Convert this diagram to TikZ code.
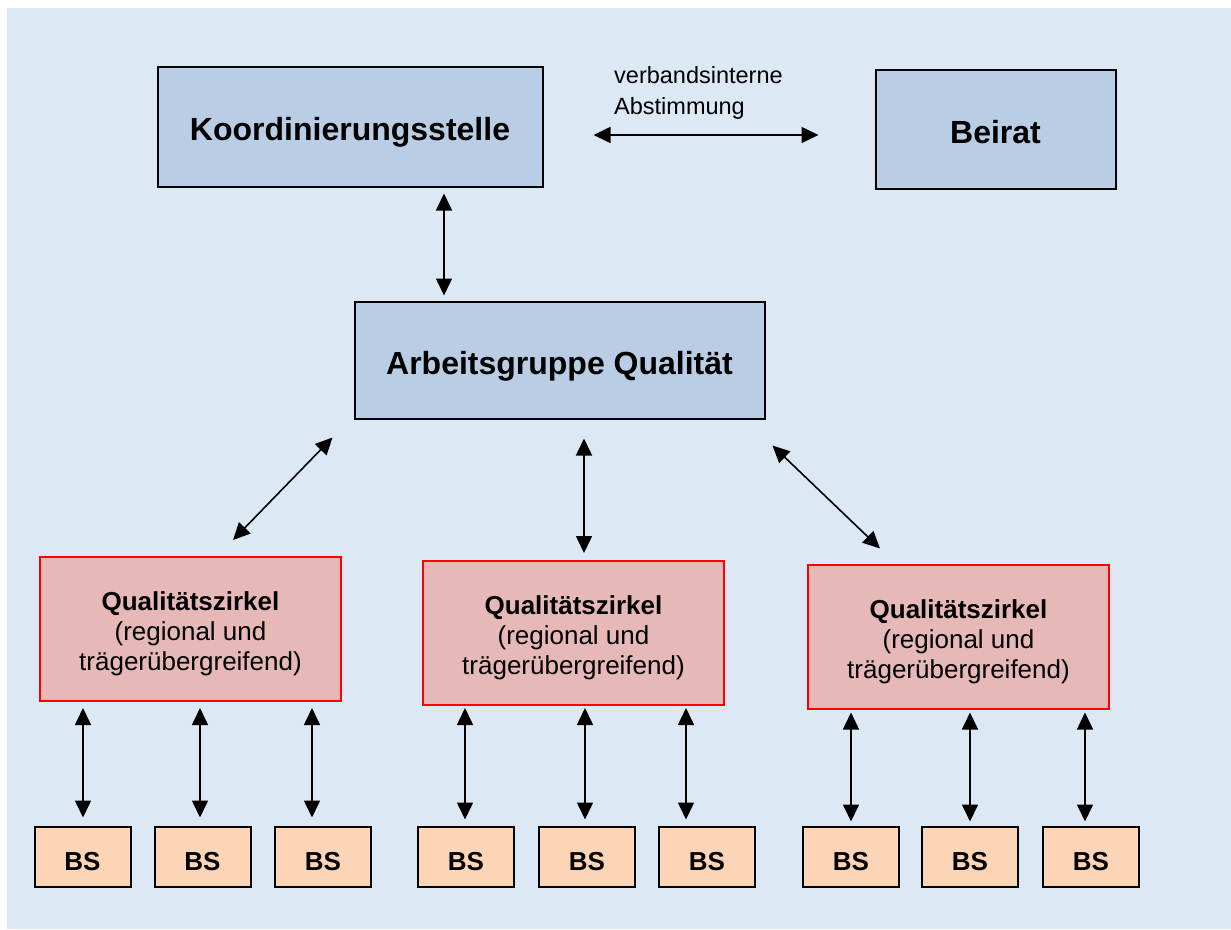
\documentclass[tikz,border=0pt]{standalone}
\usepackage{fontspec}
\setmainfont{Liberation Sans}
\usetikzlibrary{arrows.meta}
\definecolor{bgblue}{RGB}{221,232,245}
\definecolor{boxblue}{RGB}{185,205,229}
\definecolor{qzpink}{RGB}{230,184,183}
\definecolor{qzred}{RGB}{255,0,0}
\definecolor{bsorange}{RGB}{251,213,181}
\begin{document}
\begin{tikzpicture}[x=1pt,y=-1pt,
  bluebox/.style={draw=black, line width=2pt, fill=boxblue, inner sep=0pt,
    font=\fontsize{32}{38}\selectfont\bfseries, text height=28pt, text depth=0pt},
  qzbox/.style={draw=qzred, line width=2pt, fill=qzpink, inner sep=0pt,
    minimum width=301pt, minimum height=144pt, align=center,
    font=\fontsize{26}{30}\selectfont, text height=88pt, text depth=5pt},
  bsbox/.style={draw=black, line width=2pt, fill=bsorange, inner sep=0pt,
    minimum width=96pt, minimum height=60pt,
    font=\fontsize{26}{30}\selectfont\bfseries, text height=27pt, text depth=0pt},
  biarrow/.style={line width=1.6pt,
    {Triangle[length=17pt,width=16pt]}-{Triangle[length=17pt,width=16pt]}}
]
\useasboundingbox (0,0) rectangle (1231,929);
\fill[bgblue] (7,8) rectangle (1231,929);

% top boxes
\node[bluebox, minimum width=385pt, minimum height=120pt] (koord) at (350,126.5) {Koordinierungsstelle};
\node[bluebox, minimum width=240pt, minimum height=119pt] (beirat) at (995.5,129) {Beirat};
\node[bluebox, minimum width=410pt, minimum height=117pt] (ag) at (559.5,360) {Arbeitsgruppe Qualität};

\node[font=\fontsize{23.5}{31}\selectfont, align=left, anchor=west, inner sep=0pt] (lbl) at (614,92.5) {verbandsinterne\\Abstimmung};

% Qualitaetszirkel
\node[qzbox] (qz1) at (190.5,629) {{\bfseries Qualitätszirkel}\\(regional und\\trägerübergreifend)};
\node[qzbox] (qz2) at (573.5,633) {{\bfseries Qualitätszirkel}\\(regional und\\trägerübergreifend)};
\node[qzbox] (qz3) at (958.5,636.5) {{\bfseries Qualitätszirkel}\\(regional und\\trägerübergreifend)};

% BS boxes
\node[bsbox] (bs11) at (82.5,856.5) {BS};
\node[bsbox] (bs12) at (202.5,856.5) {BS};
\node[bsbox] (bs13) at (323,856.5) {BS};
\node[bsbox] (bs21) at (466,856.5) {BS};
\node[bsbox] (bs22) at (587,856.5) {BS};
\node[bsbox] (bs23) at (707,856.5) {BS};
\node[bsbox] (bs31) at (851,856.5) {BS};
\node[bsbox] (bs32) at (970,856.5) {BS};
\node[bsbox] (bs33) at (1091,856.5) {BS};

% connectors
\draw[biarrow, shorten <=50pt, shorten >=56pt] ([yshift=-8.5pt]koord.east) -- ([yshift=-6pt]beirat.west);
\draw[biarrow, shorten <=6pt, shorten >=5pt] ([xshift=94pt]koord.south) -- ([xshift=-115.5pt]ag.north);
\draw[biarrow] ([shift={(-21pt,-18pt)}]ag.south west) -- ([shift={(42.5pt,16pt)}]qz1.north);
\draw[biarrow] ([shift={(24.5pt,-19pt)}]ag.south) -- ([shift={(10.5pt,7pt)}]qz2.north);
\draw[biarrow] ([shift={(7pt,-26pt)}]ag.south east) -- ([shift={(-78.5pt,15pt)}]qz3.north);

\draw[biarrow, shorten <=6pt, shorten >=8pt] ([xshift=0.5pt]bs11.north |- qz1.south) -- ([xshift=0.5pt]bs11.north);
\draw[biarrow, shorten <=6pt, shorten >=8pt] ([xshift=-2.5pt]bs12.north |- qz1.south) -- ([xshift=-2.5pt]bs12.north);
\draw[biarrow, shorten <=6pt, shorten >=8pt] ([xshift=-11pt]bs13.north |- qz1.south) -- ([xshift=-11pt]bs13.north);

\draw[biarrow, shorten <=2pt, shorten >=6pt] ([xshift=-1pt]bs21.north |- qz2.south) -- ([xshift=-1pt]bs21.north);
\draw[biarrow, shorten <=2pt, shorten >=6pt] ([xshift=-2pt]bs22.north |- qz2.south) -- ([xshift=-2pt]bs22.north);
\draw[biarrow, shorten <=2pt, shorten >=6pt] ([xshift=-21pt]bs23.north |- qz2.south) -- ([xshift=-21pt]bs23.north);

\draw[biarrow, shorten <=3pt, shorten >=4pt] (bs31.north |- qz3.south) -- (bs31.north);
\draw[biarrow, shorten <=3pt, shorten >=4pt] (bs32.north |- qz3.south) -- (bs32.north);
\draw[biarrow, shorten <=3pt, shorten >=4pt] ([xshift=-6pt]bs33.north |- qz3.south) -- ([xshift=-6pt]bs33.north);
\end{tikzpicture}
\end{document}
